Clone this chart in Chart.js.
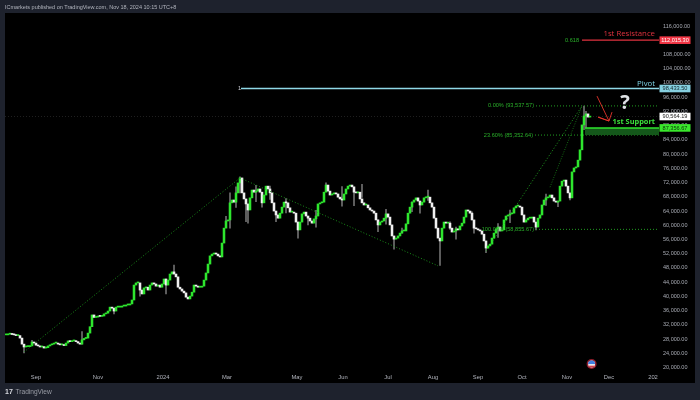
<!DOCTYPE html>
<html><head><meta charset="utf-8">
<style>html,body{margin:0;padding:0;background:#1e222d;overflow:hidden}#wrap{width:700px;height:400px}canvas{filter:blur(0.3px)}</style>
<script src="https://cdn.jsdelivr.net/npm/chart.js@4"></script>
</head><body><div id="wrap"><canvas id="c" width="700" height="400"></canvas></div>
<script>
const closes=[29200,29400,29600,29300,29200,29000,29000,28300,26600,25800,25900,25900,26100,27200,26900,26300,26100,25800,25900,25500,25600,26100,26400,26600,26900,26900,26600,26400,26400,26200,26900,27500,27300,27500,27500,27300,26900,26600,27800,28200,28300,29700,31500,34800,34100,34200,34500,34400,34500,35100,35300,35900,37000,36700,35900,37000,37000,37000,37300,37300,37600,37600,37900,39000,43200,43800,43800,41800,40700,42400,42600,41800,43200,43800,43500,42900,43200,42600,43500,44900,43200,44600,46300,46900,46300,45500,42600,42100,41500,41000,39800,39300,40100,41200,43200,42900,42600,42600,42900,44600,46600,49100,51400,51900,52200,51900,51400,51100,55000,59200,61200,61500,66300,67100,66500,69100,71900,73300,69100,67400,66000,64300,67700,69900,69300,69600,70200,69300,66300,68500,71000,70200,69100,66300,64000,62900,62000,63400,65100,66500,66300,64900,63700,63700,63400,60900,58700,60900,63200,63700,62600,62000,61200,60600,61800,62600,66000,66300,66500,69300,71300,69600,68500,68800,69100,68800,67900,67400,67100,68800,70200,71000,71300,70800,69300,69100,69300,67400,66300,65700,65700,64900,64300,64000,63400,61500,60100,60900,61200,62000,63200,62300,60100,57000,56100,56400,57000,57800,58400,58400,60400,63400,65100,66500,67100,67700,66800,65700,66500,67700,67900,67900,66300,65100,62000,59200,56400,55600,59200,60900,60600,60600,59200,58100,58400,59000,58700,59800,60600,62300,64300,64000,63400,61500,59200,59000,58700,58400,57500,55600,53600,54200,54700,56400,57800,59000,59500,58400,58700,61500,62600,62900,63200,63400,64900,65400,65400,65100,62900,60900,61500,62000,62000,62300,60900,59500,62000,62900,65700,67100,67700,67900,68500,67700,66800,66500,66800,71000,72400,72700,71000,69100,67700,75000,76100,76400,78300,81200,88200,90700,91300,90400,90564];
const wickIndex=[9,13,38,54,67,80,84,110,112,115,117,120,121,125,128,132,135,140,146,151,155,160,168,174,178,186,190,194,198,203,207,211,217,222,225,233,234,240,246,252,265,270,276,282,289,290];
const wickHigh=[25900,27700,30100,36700,41800,44900,48800,62500,69100,70800,73600,67000,65000,71200,66300,71000,63500,67500,60900,62000,64200,71900,70900,69800,71500,61500,64500,56600,59200,66600,66800,69900,56000,61000,59500,63800,59300,54000,60500,64300,60000,68800,66800,68500,93500,92000];
const wickLow=[24100,26900,26600,35100,40100,40700,46300,60100,59200,65000,69100,61000,60600,66600,65100,67300,61000,63500,56400,60100,59500,69500,65400,65500,67800,58200,60300,53300,57800,63800,63400,67000,48700,58800,56100,61500,57800,52300,56600,60700,58700,65600,65200,67100,86900,87300];
const xTickValues=[15,46,78.5,110.5,145.5,168.5,191,213.5,236,258,280.5,301.5,323.5];
const xTickLabels=['Sep','Nov','2024','Mar','May','Jun','Jul','Aug','Sep','Oct','Nov','Dec','202'];
const yTickValues=[20000,24000,28000,32000,36000,40000,44000,48000,52000,56000,60000,64000,68000,72000,76000,80000,84000,88000,92000,96000,100000,104000,108000,112000,116000];
const fibTrendA=[[9,24400],[117,73300]];
const fibTrendB=[[117,73300],[216,48600]];
const fibTrendC=[[240,52700],[288,93537.57]];
const fibTrendD=[[272,70700],[288,93537.57]];
const resistance=112015.30, pivot=98433.50, lastPrice=90564.19, support=87356.67;
const fibLevels=[93537.57,85352.64,58855.67];
const fibLabels=['0.00% (93,537.57)','23.60% (85,352.64)','100.00% (58,855.67)'];
const fibStarts=[265,264.5,265];
const arrowPath=[[295.5,96300],[301.5,89300],[296,90400],[301.5,89300],[303,91800]];
const axisEnd=326.5;

const FONT='"Liberation Sans",Arial,sans-serif';
const UP='#2ee62e',DOWN='#f0f0f0',WICK='#777777',FIB='#25b025',TREND='#1c9a1c';
const pts=a=>a.map(p=>({x:p[0],y:p[1]}));
const flat=(v,a,b)=>[{x:a,y:v},{x:b,y:v}];
const lineDs=(data,color,width,dash,order)=>({type:'line',data,borderColor:color,borderWidth:width,borderDash:dash||[],pointRadius:0,fill:false,tension:0,order:order,parsing:true});

const bodies=closes.map((c,i)=>({x:i,y:[i?closes[i-1]:c,c]}));
const bodyColors=closes.map((c,i)=>(i&&c<closes[i-1])?DOWN:UP);
const wicks=wickIndex.map((ix,k)=>({x:ix,y:[wickLow[k],wickHigh[k]]}));

const fmt=n=>n.toLocaleString('en-US',{minimumFractionDigits:2,maximumFractionDigits:2});

const overlay={id:'overlay',
 beforeDraw(ch){const g=ch.ctx;g.save();g.fillStyle='#1e222d';g.fillRect(0,0,700,400);g.fillStyle='#000';g.fillRect(5,13,690,370);g.restore();},
 afterDatasetsDraw(ch){
  const g=ch.ctx,X=ch.scales.x,Y=ch.scales.y;g.save();
  // support zone
  g.fillStyle='#14571a';
  const zl=X.getPixelForValue(289.5),zr=X.getPixelForValue(axisEnd);
  g.fillRect(zl,Y.getPixelForValue(support),zr-zl,Y.getPixelForValue(fibLevels[1])-Y.getPixelForValue(support));
  g.strokeStyle='#2ee62e';g.lineWidth=1.5;g.beginPath();g.moveTo(zl,Y.getPixelForValue(support));g.lineTo(zr,Y.getPixelForValue(support));g.stroke();
  g.textBaseline='middle';
  // fib labels
  g.font='5.6px '+FONT;g.fillStyle='#2ab02a';g.textAlign='right';
  fibLevels.forEach((v,k)=>g.fillText(fibLabels[k],X.getPixelForValue(fibStarts[k])-2,Y.getPixelForValue(v)));
  g.fillText('0.618',X.getPixelForValue(286.5),Y.getPixelForValue(resistance));
  g.fillStyle='#c9ccd4';g.fillText('1',X.getPixelForValue(117.5),Y.getPixelForValue(pivot));
  // named levels
  g.font='7.8px "Open Sans",'+FONT;g.textAlign='right';
  g.fillStyle='#e0323f';g.fillText('1st Resistance',655,Y.getPixelForValue(resistance)-6.5);
  g.fillStyle='#7fd3e6';g.fillText('Pivot',655,Y.getPixelForValue(pivot)-5);
  g.fillStyle='#3be03b';g.font='bold 7.4px "Open Sans",'+FONT;g.fillText('1st Support',655,Y.getPixelForValue(support)-6);
  // question mark
  g.font='bold 20px "Open Sans",'+FONT;g.fillStyle='#dfe3e6';g.textAlign='center';
  g.fillText('?',625,Y.getPixelForValue(92700)-6);
  // price tags
  const tag=(v,bg,fg)=>{const y=Y.getPixelForValue(v);g.fillStyle=bg;g.fillRect(659.5,y-3.8,31,7.6);g.fillStyle=fg;g.font='5.6px '+FONT;g.textAlign='center';g.fillText(fmt(v),675,y+.3);};
  tag(pivot,'#86d0e0','#12262c');tag(resistance,'#f23645','#fff');tag(lastPrice,'#ffffff','#222');tag(support,'#3ae82c','#0b300b');
  // event flag
  const fx=X.getPixelForValue(292.8),fy=Y.getPixelForValue(21000);
  g.beginPath();g.arc(fx,fy,5,0,Math.PI*2);g.fillStyle='#8e1d2b';g.fill();
  g.beginPath();g.arc(fx,fy,3.5,0,Math.PI*2);g.clip();
  g.fillStyle='#f0f0f0';g.fillRect(fx-4,fy-4,8,8);g.fillStyle='#3f7fe0';g.fillRect(fx-4,fy-4,8,4);g.fillStyle='#d8404a';g.fillRect(fx-4,fy+1.6,8,2);
  g.restore();g.save();
  // header and footer
  g.textBaseline='middle';g.textAlign='left';g.fillStyle='#b2b5be';g.font='5.5px '+FONT;
  g.fillText('ICmarkets published on TradingView.com, Nov 18, 2024 10:15 UTC+8',5,7);
  g.fillStyle='#d6d8de';g.font='bold 7px '+FONT;g.fillText('17',5,392);
  g.fillStyle='#9a9da6';g.font='6.6px '+FONT;g.fillText('TradingView',15.5,392);
  g.restore();
 }};

new Chart(document.getElementById('c'),{
 type:'bar',
 plugins:[overlay],
 data:{datasets:[
  {label:'wicks',data:wicks,backgroundColor:WICK,barThickness:0.9,grouped:false,order:6},
  {label:'candles',data:bodies,backgroundColor:bodyColors,barThickness:1.9,grouped:false,minBarLength:1,order:5},
  lineDs(pts(fibTrendA),TREND,0.9,[1,2],4),
  lineDs(pts(fibTrendB),TREND,0.9,[1,2],4),
  lineDs(pts(fibTrendC),FIB,0.9,[1,2],4),
  lineDs(pts(fibTrendD),TREND,0.7,[1,1.5],4),
  lineDs(flat(fibLevels[0],fibStarts[0],axisEnd),FIB,0.9,[1,2],3),
  lineDs(flat(fibLevels[1],fibStarts[1],axisEnd),FIB,0.9,[1,2],3),
  lineDs(flat(fibLevels[2],fibStarts[2],axisEnd),FIB,0.9,[1,2],3),
  lineDs(flat(lastPrice,-0.5,327.5),'#2c2c2c',0.7,[1,2],7),
  lineDs(flat(resistance,288,axisEnd),'#e0323f',1.2,[],2),
  lineDs(flat(pivot,117.5,axisEnd),'#8fd8e6',1.4,[],2),
  lineDs(pts(arrowPath),'#e8352b',0.9,[],1)
 ]},
 options:{
  responsive:false,animation:false,devicePixelRatio:1,
  layout:{padding:{left:5,right:5,top:13,bottom:17}},
  plugins:{legend:{display:false},tooltip:{enabled:false}},
  scales:{
   x:{type:'linear',min:-0.5,max:327.5,offset:false,grid:{display:false,drawTicks:false},border:{display:false},
    afterBuildTicks(s){s.ticks=xTickValues.map(v=>({value:v}));},
    afterFit(s){s.height=12;},
    ticks:{autoSkip:false,maxRotation:0,padding:3,color:'#b2b5be',font:{size:5.8,family:FONT},
     callback(v){const k=xTickValues.indexOf(v);return k<0?'':xTickLabels[k];}}},
   y:{type:'linear',position:'right',min:19050,max:119650,grid:{display:false,drawTicks:false},border:{display:false},
    afterBuildTicks(s){s.ticks=yTickValues.map(v=>({value:v}));},
    afterFit(s){s.width=34;},
    ticks:{autoSkip:false,padding:2,color:'#a9acb5',font:{size:5.5,family:FONT},
     callback(v){return fmt(v);}}}
  }
 }
});
</script></body></html>
